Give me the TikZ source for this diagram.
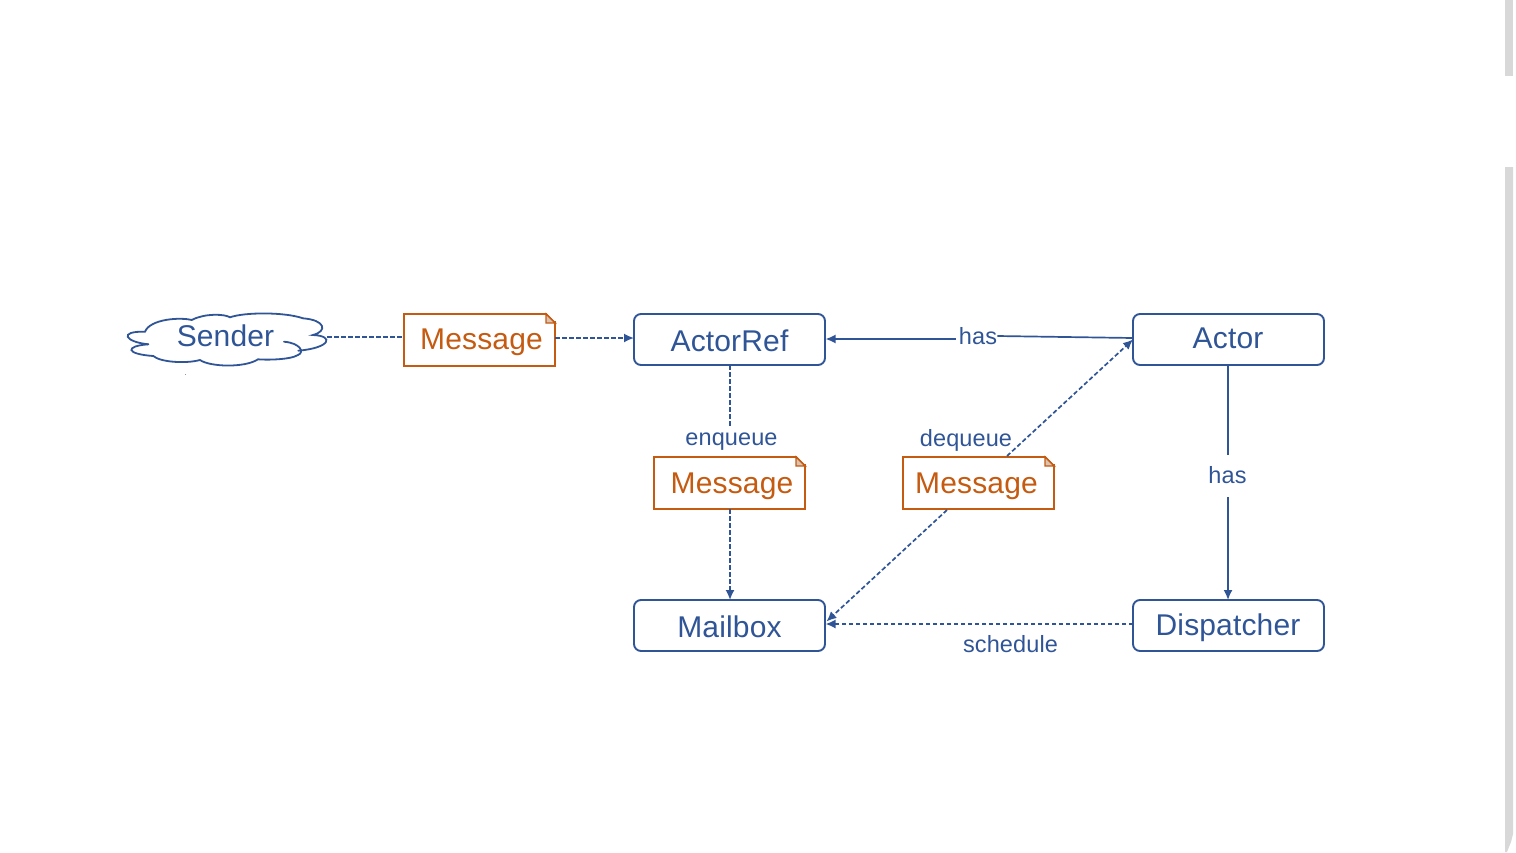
\documentclass[tikz,border=0pt]{standalone}
\usepackage{fontspec}
\setmainfont[LetterSpace=0.5]{Liberation Sans}
\usetikzlibrary{arrows.meta}
\definecolor{bl}{HTML}{2F5597}
\definecolor{og}{HTML}{C55A11}
\definecolor{sb}{HTML}{D8D8D8}
\definecolor{fd}{HTML}{D9C4B4}
% place text: horizontal shift, baseline below the node centre, text
\newcommand{\placed}[3]{\smash{\raisebox{-#2pt}{\makebox[0pt]{\hspace{#1pt}\hspace{#1pt}#3}}}}
\tikzset{
  actorbox/.style={draw=bl,line width=1.9pt,rounded corners=7pt,minimum width=191pt,minimum height=51pt,inner sep=0pt,outer sep=0pt,text=bl,font=\fontsize{30}{32}\selectfont},
  msgbox/.style={draw=og,line width=1.9pt,minimum width=151pt,minimum height=52pt,inner sep=0pt,outer sep=0pt,text=og,font=\fontsize{30}{32}\selectfont},
  fold/.style={draw=og,line width=1.3pt,fill=fd},
  lbl/.style={text=bl,inner sep=0pt,font=\fontsize{23.5}{26}\selectfont},
  solidline/.style={draw=bl,line width=1.7pt},
  dashline/.style={draw=bl,line width=1.7pt,dash pattern=on 4.5pt off 2.5pt},
  tip/.style={-{Latex[length=10pt,width=9pt]}},
}
\begin{document}
\begin{tikzpicture}[x=1pt,y=-1pt]
\useasboundingbox (0,0) rectangle (1516,852);
% scrollbar remains
\fill[sb] (1505,0) rectangle (1513,76);
\fill[sb] (1505,167) -- (1513,167) -- (1513,834) -- (1511,842) -- (1507,852) -- (1505,852) -- cycle;
% cloud
\draw[bl,line width=1.8pt,line cap=round,fill=white]
  (148.3,344.3) .. controls (125,342) and (118,331) .. (145,331.7)
  .. controls (150,319) and (180,317) .. (191.7,320)
  .. controls (205,313) and (225,314) .. (230,317.3)
  .. controls (245,312) and (285,312) .. (303,318.3)
  .. controls (325,320) and (328,331) .. (313,335)
  .. controls (335,336) and (330,348) .. (298.3,350.7);
\draw[bl,line width=1.8pt,line cap=round]
  (284,341.7) .. controls (300,343) and (305,352) .. (298,355)
  .. controls (290,360) and (265,360) .. (258,359.3)
  .. controls (245,368) and (210,367) .. (200,360)
  .. controls (185,364) and (160,362) .. (153.3,356)
  .. controls (125,354) and (125,346) .. (148.3,344.3);
\fill[bl!60] (184.5,373.5) rectangle (186,374.5);
\node[text=bl,inner sep=0pt,font=\fontsize{30}{32}\selectfont] (sender) at (225.5,336) {Sender};
\coordinate (senderE) at (327,337);
% boxes
\node[actorbox] (actorref) at (729.5,339.5) {\placed{0}{12}{ActorRef}};
\node[actorbox] (actor) at (1228.5,339.5) {\placed{-0.5}{9}{Actor}};
\node[actorbox] (mailbox) at (729.5,625.5) {\placed{0}{12}{Mailbox}};
\node[actorbox] (dispatcher) at (1228.5,625.5) {\placed{-0.5}{10}{Dispatcher}};
\node[msgbox] (m1) at (479.5,340) {\placed{2}{9.5}{Message}};
\node[msgbox] (m2) at (729.5,483) {\placed{2.5}{10}{Message}};
\node[msgbox] (m3) at (978.5,483) {\placed{-2}{10}{Message}};
% folds
\foreach \m in {m1,m2,m3}{
  \fill[white] (\m.north east) ++(-8.5,-1.5) rectangle ++(10.5,8.5);
  \draw[og,line width=1.9pt] (\m.north east) ++(-9.5,0) -- ++(0.5,0) -- ++(9.5,9.5) -- ++(0,0.5);
  \draw[fold] (\m.north east) ++(-9,0) -- ++(0,9) -- ++(9,0) -- cycle;
}
% labels
\node[lbl] (has1) at (978,336) {has};
\node[lbl] (has2) at (1227.5,475) {has};
\node[lbl] (enq) at (731.5,442) {enqueue};
\node[lbl] (deq) at (966,440) {dequeue};
\node[lbl] (sch) at (1010.5,644) {schedule};
% connectors
\coordinate (arE) at (825.5,339);
\coordinate (acW) at (1133,338);
\coordinate (acW2) at (1133,339.5);
\coordinate (mbE) at (825.5,624);
\coordinate (mbE2) at (826.5,621.5);
\coordinate (arW) at (634,338);
\coordinate (e1) at (730,428);
\coordinate (h2a) at (1228,455);
\coordinate (h2b) at (1228,497);
\draw[dashline] (senderE) -- (m1.west |- senderE);
\draw[dashline,tip] (m1.east |- arW) -- (arW);
\draw[solidline,tip] (956,339) coordinate (h1a) -- (arE);
\draw[solidline] (acW) -- (has1.east);
\draw[dashline] (e1 |- actorref.south) -- (e1);
\draw[dashline,tip] (e1 |- m2.south) -- (e1 |- mailbox.north);
\draw[dashline,tip] (1007,456) coordinate (m3t) -- (acW2);
\draw[dashline,tip] (947,510) coordinate (m3b) -- (mbE2);
\draw[dashline,tip] (dispatcher.west |- mbE) -- (mbE);
\draw[solidline] (h2a |- actor.south) -- (h2a);
\draw[solidline,tip] (h2b) -- (h2b |- dispatcher.north);
\end{tikzpicture}
\end{document}
